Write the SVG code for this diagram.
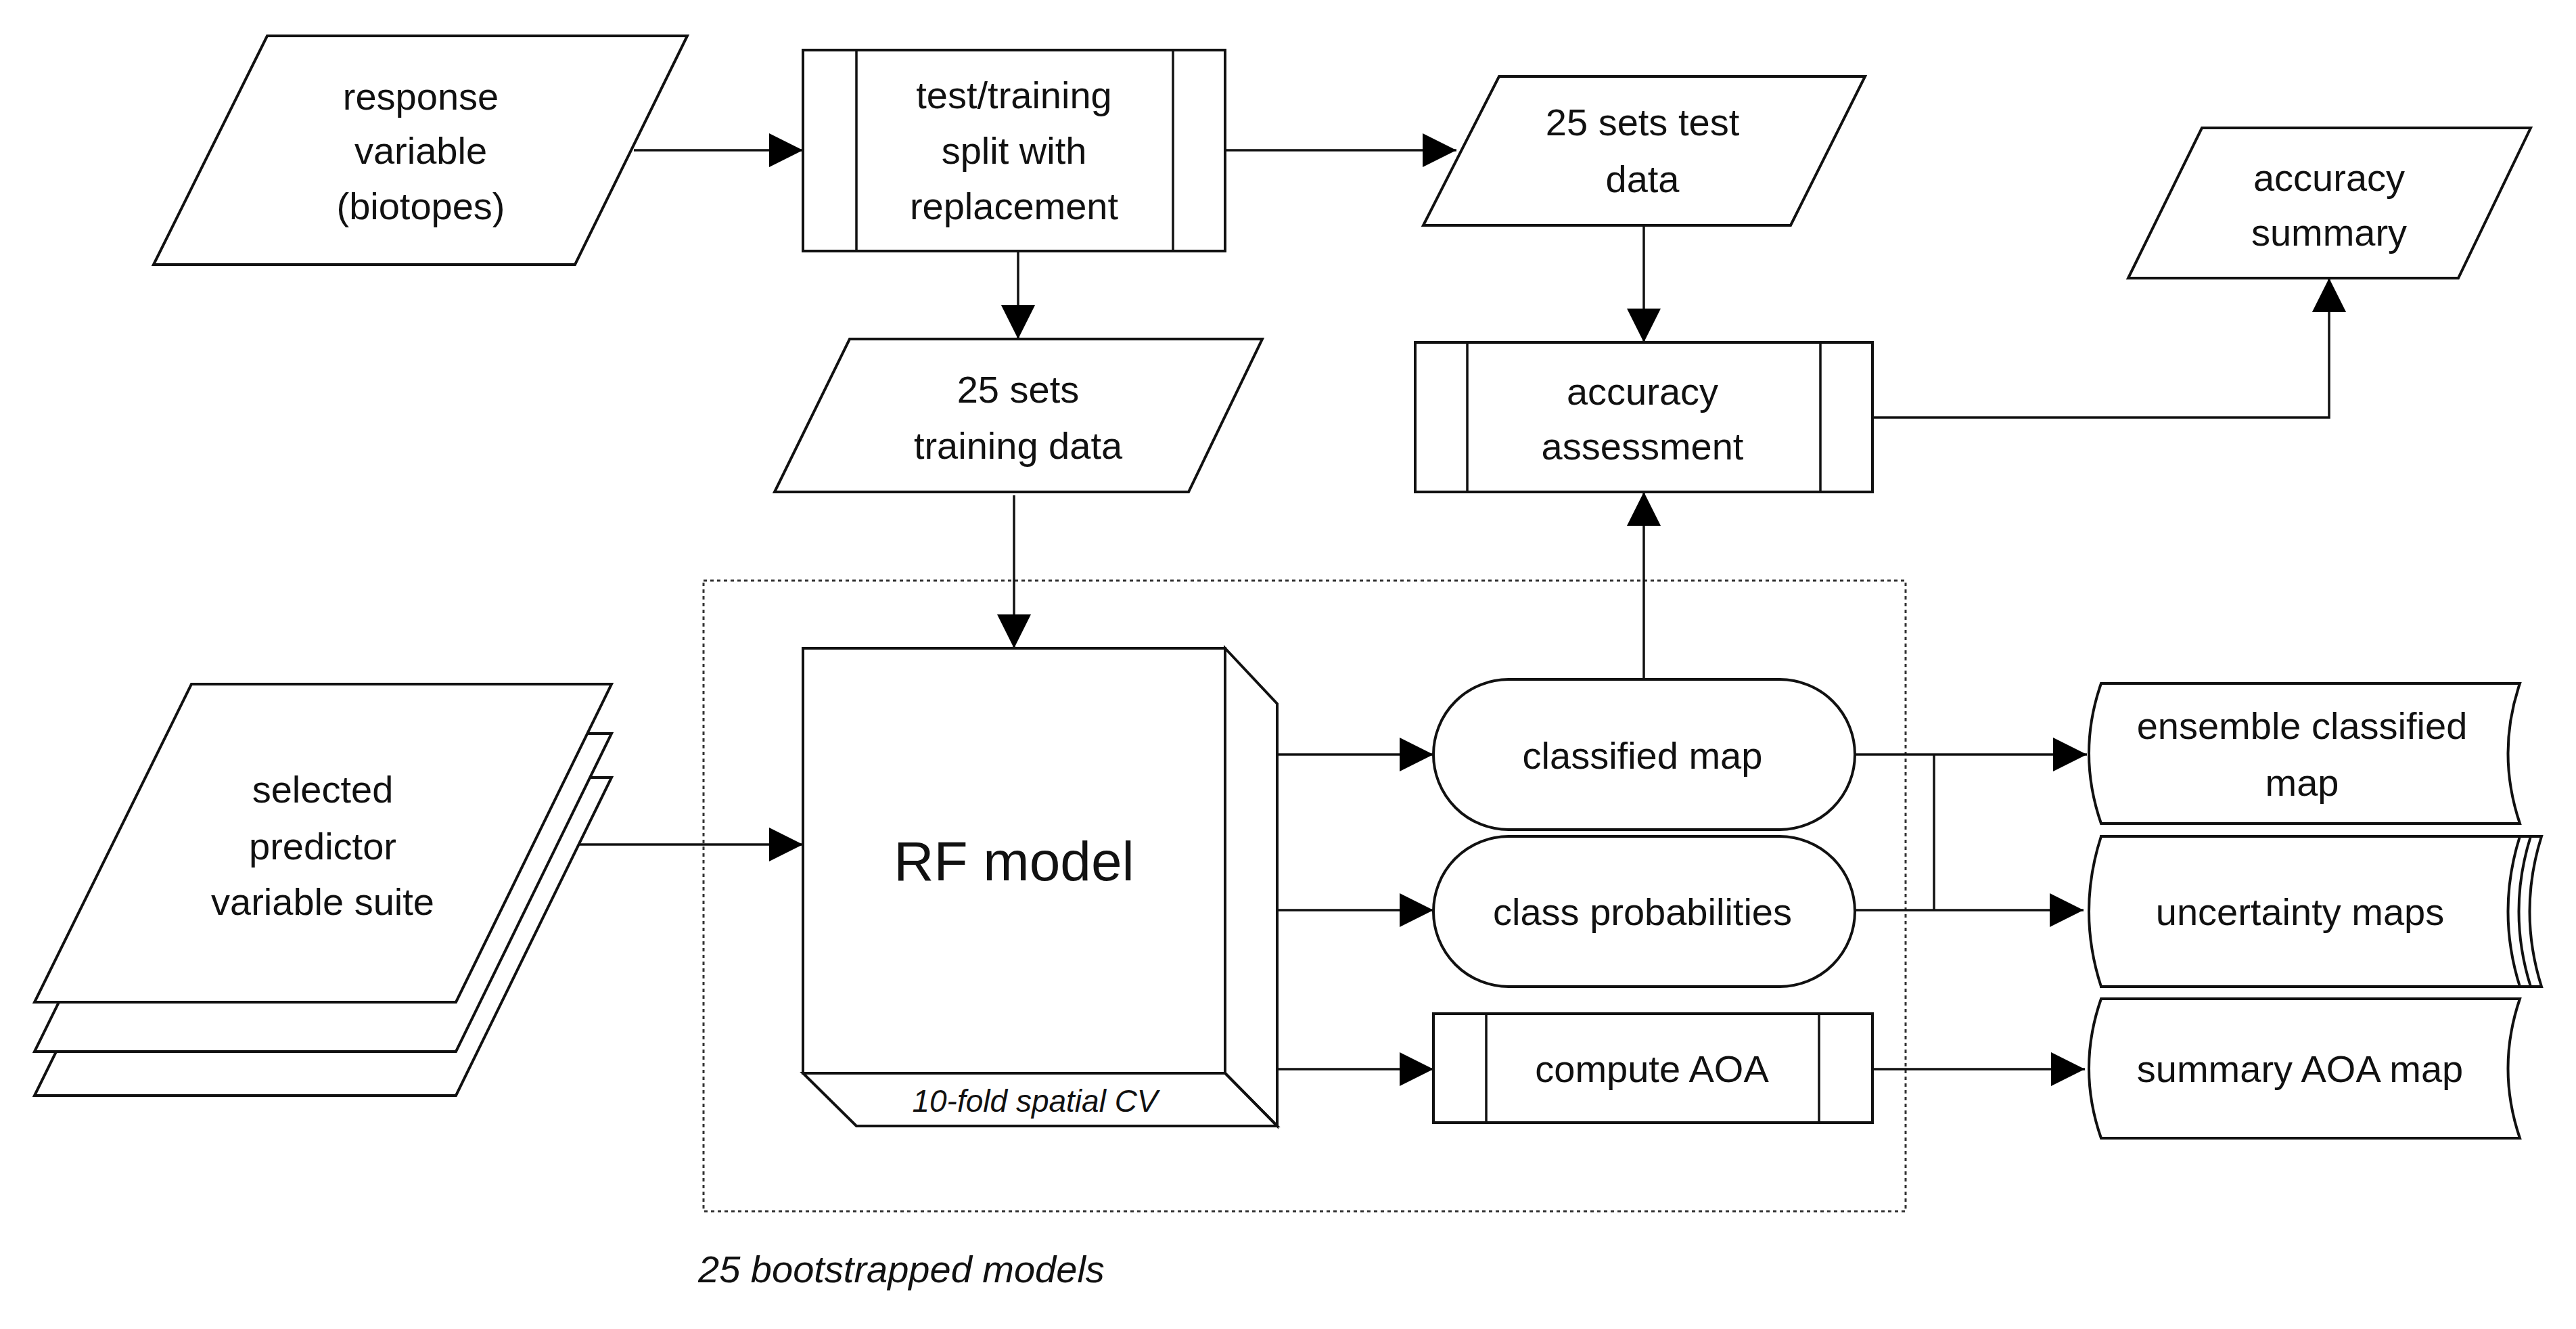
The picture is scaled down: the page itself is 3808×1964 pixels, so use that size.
<svg xmlns="http://www.w3.org/2000/svg" width="3808" height="1964" viewBox="0 0 3808 1964">
<style>
.s{fill:#fff;stroke:#111;stroke-width:4}
.l{fill:none;stroke:#111;stroke-width:3.5}
.t{font-family:"Liberation Sans",Arial,sans-serif;font-size:56px;fill:#111;text-anchor:middle}
.i{font-style:italic}
</style>
<defs>
<marker id="a" markerUnits="userSpaceOnUse" markerWidth="50" markerHeight="50" viewBox="0 0 50 50" refX="50" refY="25" orient="auto"><path d="M0,0 L50,25 L0,50 Z" fill="#000"/></marker>
</defs>
<rect width="3808" height="1964" fill="#fff"/>
<rect x="1040" y="858" width="1777" height="932" fill="none" stroke="#333" stroke-width="3" stroke-dasharray="5,5"/>
<text class="t i" x="1032" y="1895" text-anchor="start" style="text-anchor:start">25 bootstrapped models</text>
<g id="connectors">
<path class="l" d="M937,222 H1187" marker-end="url(#a)"/>
<path class="l" d="M1505,371 V501" marker-end="url(#a)"/>
<path class="l" d="M1811,222 H2153" marker-end="url(#a)"/>
<path class="l" d="M1499,732 V958" marker-end="url(#a)"/>
<path class="l" d="M2430,333 V506" marker-end="url(#a)"/>
<path class="l" d="M2768,617 H3443 V411" marker-end="url(#a)"/>
<path class="l" d="M2430,1004 V727" marker-end="url(#a)"/>
<path class="l" d="M789,1248 H1187" marker-end="url(#a)"/>
<path class="l" d="M1888,1115 H2119" marker-end="url(#a)"/>
<path class="l" d="M1888,1345 H2119" marker-end="url(#a)"/>
<path class="l" d="M1888,1580 H2119" marker-end="url(#a)"/>
<path class="l" d="M2742,1115 H3085" marker-end="url(#a)"/>
<path class="l" d="M2742,1345 H3080" marker-end="url(#a)"/>
<path class="l" d="M2859,1115 V1345"/>
<path class="l" d="M2768,1580 H3082" marker-end="url(#a)"/>
</g>
<g id="response"><polygon class="s" points="395,53 1016,53 850,391 227,391"/>
<text class="t" x="622" y="162">response</text><text class="t" x="622" y="242">variable</text><text class="t" x="622" y="324">(biotopes)</text></g>
<g id="split"><rect class="s" x="1187" y="74" width="624" height="297"/><path class="l" d="M1266,74 V371 M1734,74 V371"/>
<text class="t" x="1499" y="160">test/training</text><text class="t" x="1499" y="242">split with</text><text class="t" x="1499" y="324">replacement</text></g>
<g id="training"><polygon class="s" points="1256,501 1866,501 1757,727 1145,727"/>
<text class="t" x="1505" y="595">25 sets</text><text class="t" x="1505" y="678">training data</text></g>
<g id="testdata"><polygon class="s" points="2216,113 2757,113 2647,333 2104,333"/>
<text class="t" x="2428" y="200">25 sets test</text><text class="t" x="2428" y="284">data</text></g>
<g id="assessment"><rect class="s" x="2092" y="506" width="676" height="221"/><path class="l" d="M2169,506 V727 M2691,506 V727"/>
<text class="t" x="2428" y="598">accuracy</text><text class="t" x="2428" y="679">assessment</text></g>
<g id="summary"><polygon class="s" points="3255,189 3741,189 3634,411 3146,411"/>
<text class="t" x="3443" y="282">accuracy</text><text class="t" x="3443" y="363">summary</text></g>
<g id="predictors">
<polygon class="s" points="283,1149 904,1149 674,1619 51,1619"/>
<polygon class="s" points="283,1084 904,1084 674,1554 51,1554"/>
<polygon class="s" points="283,1011 904,1011 674,1481 51,1481"/>
<text class="t" x="477" y="1186">selected</text><text class="t" x="477" y="1270">predictor</text><text class="t" x="477" y="1352">variable suite</text></g>
<g id="rf">
<polygon class="s" points="1811,958 1888,1040 1888,1664 1811,1586"/>
<polygon class="s" points="1187,1586 1811,1586 1888,1664 1266,1664"/>
<rect class="s" x="1187" y="958" width="624" height="628"/>
<text class="t" x="1499" y="1301" style="font-size:82px">RF model</text>
<text class="t i" x="1530" y="1643" style="font-size:46px">10-fold spatial CV</text></g>
<g id="classified"><rect class="s" x="2119" y="1004" width="623" height="222" rx="111" ry="111"/>
<text class="t" x="2428" y="1136">classified map</text></g>
<g id="probabilities"><rect class="s" x="2119" y="1236" width="623" height="222" rx="111" ry="111"/>
<text class="t" x="2428" y="1367">class probabilities</text></g>
<g id="aoa"><rect class="s" x="2119" y="1498" width="649" height="161"/><path class="l" d="M2197,1498 V1659 M2689,1498 V1659"/>
<text class="t" x="2442" y="1599">compute AOA</text></g>
<g id="ensemble"><path class="s" d="M3106,1010 H3725 Q3690,1113 3725,1217 H3106 Q3070,1113 3106,1010 Z"/>
<text class="t" x="3403" y="1092">ensemble classified</text><text class="t" x="3403" y="1176">map</text></g>
<g id="uncertainty">
<path class="s" d="M3106,1236 H3757 Q3722,1347 3757,1458 H3106 Z"/>
<path class="s" d="M3106,1236 H3741 Q3706,1347 3741,1458 H3106 Z"/>
<path class="s" d="M3106,1236 H3725 Q3690,1347 3725,1458 H3106 Q3070,1347 3106,1236 Z"/>
<text class="t" x="3400" y="1367">uncertainty maps</text></g>
<g id="aoamap"><path class="s" d="M3106,1476 H3725 Q3690,1579 3725,1682 H3106 Q3070,1579 3106,1476 Z"/>
<text class="t" x="3400" y="1599">summary AOA map</text></g>
</svg>
